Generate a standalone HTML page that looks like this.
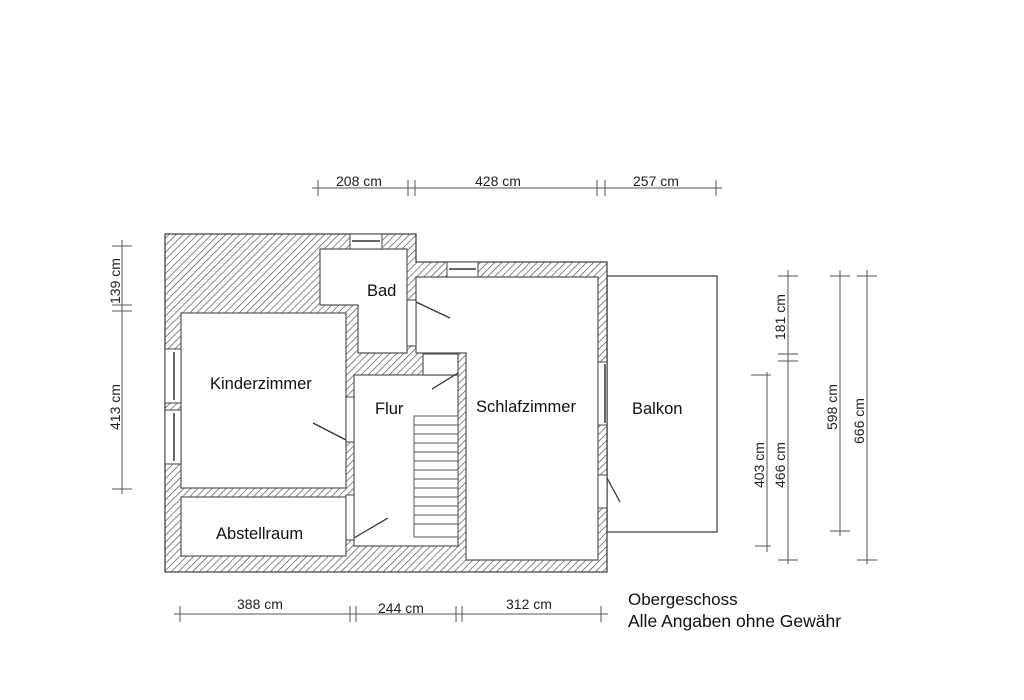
<!DOCTYPE html>
<html><head><meta charset="utf-8"><style>
html,body{margin:0;padding:0;background:#fff;}
svg{display:block;font-family:"Liberation Sans",sans-serif;}
</style></head><body>
<svg width="1024" height="700" viewBox="0 0 1024 700" xmlns="http://www.w3.org/2000/svg">
<defs>
<pattern id="h" patternUnits="userSpaceOnUse" width="5" height="5" patternTransform="rotate(45)">
<rect width="5" height="5" fill="#fff"/>
<line x1="0" y1="0" x2="0" y2="5" stroke="#555" stroke-width="1.4"/>
</pattern>
</defs>
<rect width="1024" height="700" fill="#fff"/>
<rect x="607" y="276" width="110" height="256" fill="#fff" stroke="#444" stroke-width="1.3"/>
<polygon points="165,234 416,234 416,262 607,262 607,572 165,572" fill="url(#h)" stroke="#444" stroke-width="1.3"/>
<g fill="#fff" stroke="#555" stroke-width="1.2">
<rect x="181" y="313" width="165" height="175"/>
<rect x="181" y="497" width="165" height="59"/>
<polygon points="320,249 407,249 407,353 358,353 358,305 320,305"/>
<rect x="354" y="375" width="104" height="171"/>
<polygon points="416,277 598,277 598,560 466,560 466,353 416,353"/>
<rect x="423" y="354" width="35" height="21"/>
</g>
<g fill="#fff" stroke="#444" stroke-width="1">
<rect x="350" y="234" width="32" height="15"/>
<rect x="447" y="262" width="31" height="15"/>
<rect x="165" y="349" width="16" height="54"/>
<rect x="165" y="410" width="16" height="54"/>
<rect x="598" y="362" width="9" height="63"/>
<rect x="407" y="300" width="9" height="46"/>
<rect x="346" y="397" width="8" height="45"/>
<rect x="346" y="495" width="8" height="45"/>
<rect x="598" y="475" width="9" height="33"/>
</g>
<g stroke="#333" stroke-width="1.5">
<line x1="352" y1="241" x2="380" y2="241"/>
<line x1="449" y1="269" x2="476" y2="269"/>
<line x1="174" y1="352" x2="174" y2="400"/>
<line x1="174" y1="413" x2="174" y2="461"/>
<line x1="605" y1="364" x2="605" y2="423"/>
</g>
<g stroke="#333" stroke-width="1.3" fill="none">
<line x1="416" y1="302" x2="450" y2="318"/>
<line x1="346" y1="440" x2="313" y2="423"/>
<line x1="354" y1="538" x2="388" y2="518"/>
<line x1="458" y1="373" x2="432" y2="389"/>
<line x1="607" y1="478" x2="620" y2="502"/>
</g>
<g stroke="#555" stroke-width="1" fill="#fff">
<rect x="414" y="416" width="44" height="121"/>
<path d="M414 425H458M414 434H458M414 443H458M414 452H458M414 461H458M414 470H458M414 479H458M414 488H458M414 497H458M414 506H458M414 515H458M414 524H458"/>
</g>
<g font-size="16.5" fill="#111">
<text x="367" y="296">Bad</text>
<text x="210" y="389">Kinderzimmer</text>
<text x="375" y="414">Flur</text>
<text x="476" y="412">Schlafzimmer</text>
<text x="632" y="414">Balkon</text>
<text x="216" y="539">Abstellraum</text>
<text x="628" y="605" font-size="17">Obergeschoss</text>
<text x="628" y="627" font-size="17.5">Alle Angaben ohne Gewähr</text>
</g>
<g stroke="#555" stroke-width="1" fill="none">
<line x1="312" y1="188" x2="722" y2="188"/>
<path d="M318 180V196M408 180V196M415 180V196M597 180V196M605 180V196M716 180V196"/>
<line x1="174" y1="614" x2="608" y2="614"/>
<path d="M180 606V622M350 606V622M356 606V622M456 606V622M462 606V622M601 606V622"/>
<line x1="122" y1="240" x2="122" y2="494"/>
<path d="M112 246H132M112 305H132M112 311H132M112 489H132"/>
<line x1="767" y1="372" x2="767" y2="552"/>
<path d="M751 375H771M755 546H771"/>
<line x1="788" y1="270" x2="788" y2="564"/>
<path d="M778 276H798M778 354H798M778 361H798M778 560H798"/>
<line x1="840" y1="270" x2="840" y2="536"/>
<path d="M830 276H850M830 531H850"/>
<line x1="867" y1="270" x2="867" y2="564"/>
<path d="M857 276H877M857 560H877"/>
</g>
<g font-size="14" fill="#222">
<text x="336" y="186">208 cm</text>
<text x="475" y="186">428 cm</text>
<text x="633" y="186">257 cm</text>
<text x="237" y="609">388 cm</text>
<text x="378" y="613">244 cm</text>
<text x="506" y="609">312 cm</text>
<text transform="translate(120,304) rotate(-90)">139 cm</text>
<text transform="translate(120,430) rotate(-90)">413 cm</text>
<text transform="translate(764,488) rotate(-90)">403 cm</text>
<text transform="translate(785,488) rotate(-90)">466 cm</text>
<text transform="translate(785,340) rotate(-90)">181 cm</text>
<text transform="translate(837,430) rotate(-90)">598 cm</text>
<text transform="translate(864,444) rotate(-90)">666 cm</text>
</g>
</svg>
</body></html>
